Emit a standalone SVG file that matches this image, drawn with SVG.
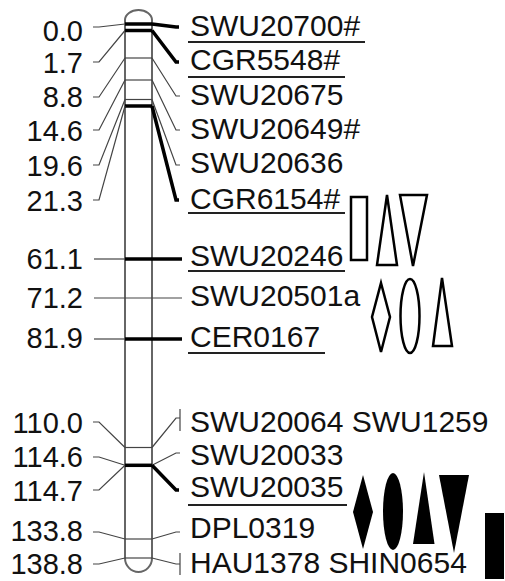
<svg xmlns="http://www.w3.org/2000/svg" width="505" height="581" viewBox="0 0 505 581">
<style>
.lab{font-family:"Liberation Sans",Arial,sans-serif;font-size:30px;fill:#111}
.pos{text-anchor:end;font-size:29px}
.thin{stroke:#444;stroke-width:1.2;fill:none}
.thick{stroke:#000;stroke-width:3.5;fill:none}
.ul{stroke:#222;stroke-width:2}
.out{fill:#fff;stroke:#000;stroke-width:2.5}
.sol{fill:#000;stroke:none}
</style>
<rect width="505" height="581" fill="#fff"/>
<g id="chromosome">
<path d="M125,558 V20 A13.5,10 0 0 1 152,20 V558 A13.5,14 0 0 1 125,558 Z" fill="#fff" stroke="#666" stroke-width="2"/>
</g>
<g id="connectors">
<line class="thick" x1="125" y1="24" x2="152" y2="24"/>
<line class="thick" x1="125" y1="30.5" x2="152" y2="30.5"/>
<line class="thin" x1="125" y1="58" x2="152" y2="58"/>
<line class="thin" x1="125" y1="80" x2="152" y2="80"/>
<line class="thin" x1="125" y1="99.5" x2="152" y2="99.5"/>
<line class="thick" x1="125" y1="106" x2="152" y2="106"/>
<line class="thin" x1="125" y1="447.5" x2="152" y2="447.5"/>
<line class="thick" x1="125" y1="465.3" x2="152" y2="465.3"/>
<line class="thin" x1="125" y1="539" x2="152" y2="539"/>
<line class="thin" x1="125" y1="558" x2="152" y2="558"/>
<polyline class="thin" points="93,27 99,27 125,24"/>
<polyline class="thin" points="93,62 99,62 125,30.5"/>
<polyline class="thin" points="93,97 99,97 125,58"/>
<polyline class="thin" points="93,130 99,130 125,80"/>
<polyline class="thin" points="93,165 99,165 125,99.5"/>
<polyline class="thin" points="93,200 99,200 125,106"/>
<line class="thin" x1="94" y1="259" x2="125" y2="259"/>
<line class="thin" x1="94" y1="298" x2="182" y2="298"/>
<line class="thin" x1="94" y1="339" x2="125" y2="339"/>
<polyline class="thin" points="93,422 99,422 125,447.5"/>
<polyline class="thin" points="93,457 99,457 125,465.3"/>
<polyline class="thin" points="93,490 99,490 125,465.3"/>
<polyline class="thin" points="93,532 99,532 125,539"/>
<polyline class="thin" points="93,564 99,564 125,558"/>
<polyline class="thick" points="152,24 176,27 179,27"/>
<polyline class="thick" points="152,30.5 176,62 179,62"/>
<polyline class="thin" points="152,58 176,96 180,96"/>
<polyline class="thin" points="152,80 176,130 180,130"/>
<polyline class="thin" points="152,99.5 176,165 180,165"/>
<polyline class="thick" points="152,106 176,200 179,200"/>
<line class="thick" x1="125" y1="259" x2="182" y2="259"/>
<line class="thick" x1="125" y1="339" x2="182" y2="339"/>
<polyline class="thin" points="152,447.5 176,418 180,418"/>
<line class="thin" x1="180" y1="409" x2="180" y2="431"/>
<polyline class="thin" points="152,465.3 176,453 180,453"/>
<polyline class="thick" points="152,465.3 176,490 179,490"/>
<polyline class="thin" points="152,539 176,532 180,532"/>
<polyline class="thin" points="152,558 176,564 180,564"/>
<line class="thin" x1="180" y1="553" x2="180" y2="575"/>
</g>
<g id="positions">
<text class="lab pos" x="83" y="41">0.0</text>
<text class="lab pos" x="83" y="73">1.7</text>
<text class="lab pos" x="83" y="107">8.8</text>
<text class="lab pos" x="83" y="141">14.6</text>
<text class="lab pos" x="83" y="176">19.6</text>
<text class="lab pos" x="83" y="211">21.3</text>
<text class="lab pos" x="83" y="269">61.1</text>
<text class="lab pos" x="83" y="308">71.2</text>
<text class="lab pos" x="83" y="348">81.9</text>
<text class="lab pos" x="83" y="433">110.0</text>
<text class="lab pos" x="83" y="467">114.6</text>
<text class="lab pos" x="83" y="501">114.7</text>
<text class="lab pos" x="83" y="541">133.8</text>
<text class="lab pos" x="83" y="574">138.8</text>
</g>
<g id="markers">
<text class="lab" x="190" y="36">SWU20700#</text>
<text class="lab" x="190" y="70">CGR5548#</text>
<text class="lab" x="190" y="105">SWU20675</text>
<text class="lab" x="190" y="139">SWU20649#</text>
<text class="lab" x="190" y="173">SWU20636</text>
<text class="lab" x="190" y="209">CGR6154#</text>
<text class="lab" x="190" y="266">SWU20246</text>
<text class="lab" x="190" y="306">SWU20501a</text>
<text class="lab" x="190" y="347">CER0167</text>
<text class="lab" x="190" y="432">SWU20064 SWU1259</text>
<text class="lab" x="190" y="465">SWU20033</text>
<text class="lab" x="190" y="497">SWU20035</text>
<text class="lab" x="190" y="538">DPL0319</text>
<text class="lab" x="190" y="573">HAU1378 SHIN0654</text>
<line class="ul" x1="188" y1="42" x2="365" y2="42"/>
<line class="ul" x1="188" y1="77" x2="345" y2="77"/>
<line class="ul" x1="188" y1="213" x2="345" y2="213"/>
<line class="ul" x1="188" y1="271" x2="345" y2="271"/>
<line class="ul" x1="188" y1="353" x2="325" y2="353"/>
<line class="ul" x1="188" y1="505" x2="347" y2="505"/>
</g>
<g id="symbols-open">
<rect class="out" x="351" y="197" width="16" height="63"/>
<polygon class="out" points="387,195 397,265 377,265"/>
<polygon class="out" points="400,195 427,195 413,266"/>
<polygon class="out" points="381,283 390,317 381,352 372,317"/>
<ellipse class="out" cx="410" cy="316" rx="9.5" ry="37"/>
<polygon class="out" points="442,278 452,346 433,346"/>
</g>
<g id="symbols-solid">
<polygon class="sol" points="363,475 373,512 363,549 353,512"/>
<ellipse class="sol" cx="393" cy="511.5" rx="10" ry="38.5"/>
<polygon class="sol" points="424,472 434.5,544 413,544"/>
<polygon class="sol" points="439,475 469,475 454,553"/>
<rect class="sol" x="485" y="513" width="19" height="66"/>
</g>
</svg>
